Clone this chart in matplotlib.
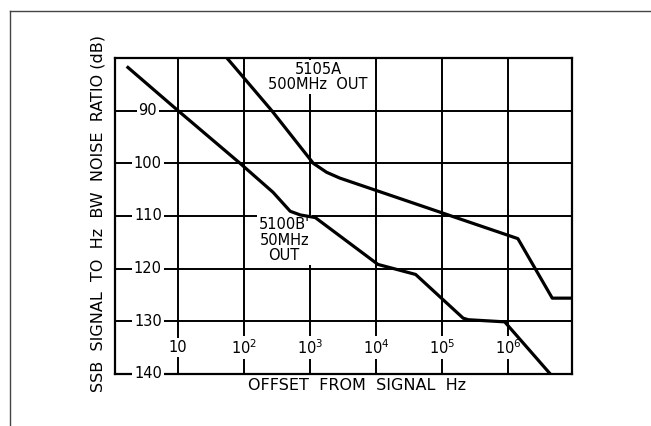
import matplotlib
matplotlib.use('Agg')
from matplotlib import pyplot as plt
from matplotlib.lines import Line2D


# offsets (Hz) and SSB signal / 1 Hz noise ratio (dB)
offset_5105a = [55, 263, 1120, 1780, 2820, 1.41e6, 4.68e6, 1.0e7]
ratio_5105a = [80, 90, 100, 101.7, 102.8, 114.3, 125.6, 125.6]

offset_5100b = [1.74, 10, 87, 275, 500, 710, 1200, 10700, 39800, 2.09e5,
                2.5e5, 8.9e5, 4.37e6]
ratio_5100b = [81.8, 90, 100, 105.5, 109.1, 109.8, 110.3, 119.2, 121.1,
               129.4, 129.7, 130.1, 140]

x_ticks = [10, 1e2, 1e3, 1e4, 1e5, 1e6]
x_tick_labels = ['10', '$10^{2}$', '$10^{3}$', '$10^{4}$', '$10^{5}$', '$10^{6}$']
y_ticks = [90, 100, 110, 120, 130, 140]
y_tick_labels = ['90', '100', '110', '120', '130', '140']

FONT = 10.5
box = dict(facecolor='white', edgecolor='none', pad=1.5)

fig = plt.figure(figsize=(6.51, 4.26), dpi=100)
ax = fig.add_axes([0.1767, 0.1221, 0.702, 0.7418])

ax.set_xscale('log')
ax.set_xlim(10 ** 0.045, 10 ** 6.97)
ax.set_ylim(140, 80)
ax.set_xticks(x_ticks)
ax.set_yticks(y_ticks[:-1])
ax.minorticks_off()
ax.tick_params(length=0, labelbottom=False, labelleft=False)
ax.grid(True, color='black', linewidth=1.4)
for s in ax.spines.values():
    s.set_linewidth(1.6)

ax.plot(offset_5105a, ratio_5105a, color='black', linewidth=2.3,
        solid_joinstyle='round', zorder=5)
ax.plot(offset_5100b, ratio_5100b, color='black', linewidth=2.3,
        solid_joinstyle='round', zorder=5)

# tick labels sit inside the grid, breaking the lines
for v, lab in zip(y_ticks, y_tick_labels):
    ax.text(0.072, v, lab, transform=ax.get_yaxis_transform(), ha='center',
            va='center', fontsize=FONT, bbox=box, zorder=4)
for v, lab in zip(x_ticks, x_tick_labels):
    ax.text(v, 135, lab, ha='center', va='center', fontsize=FONT,
            bbox=box, zorder=4)

ax.text(1320, 83.6, '5105A\n500MHz  OUT', ha='center', va='center',
        fontsize=FONT, linespacing=1.0, bbox=box, zorder=4)
ax.text(405, 114.6, "5100B'\n50MHz\nOUT", ha='center', va='center',
        fontsize=FONT, linespacing=1.05, bbox=box, zorder=4)

fig.text(98 / 651, 1 - 213 / 426, 'SSB  SIGNAL  TO  Hz  BW  NOISE  RATIO (dB)',
         rotation=90, ha='center', va='center', fontsize=11.5)
fig.text(357 / 651, 1 - 386 / 426, 'OFFSET  FROM  SIGNAL  Hz',
         ha='center', va='center', fontsize=11.5)

# page frame
fig.add_artist(Line2D([10 / 651, 1], [1 - 11 / 426] * 2, color='#444444',
                      linewidth=1.0, transform=fig.transFigure))
fig.add_artist(Line2D([10 / 651] * 2, [0, 1 - 11 / 426], color='#444444',
                      linewidth=1.0, transform=fig.transFigure))

fig.savefig('out.png', dpi=100)
